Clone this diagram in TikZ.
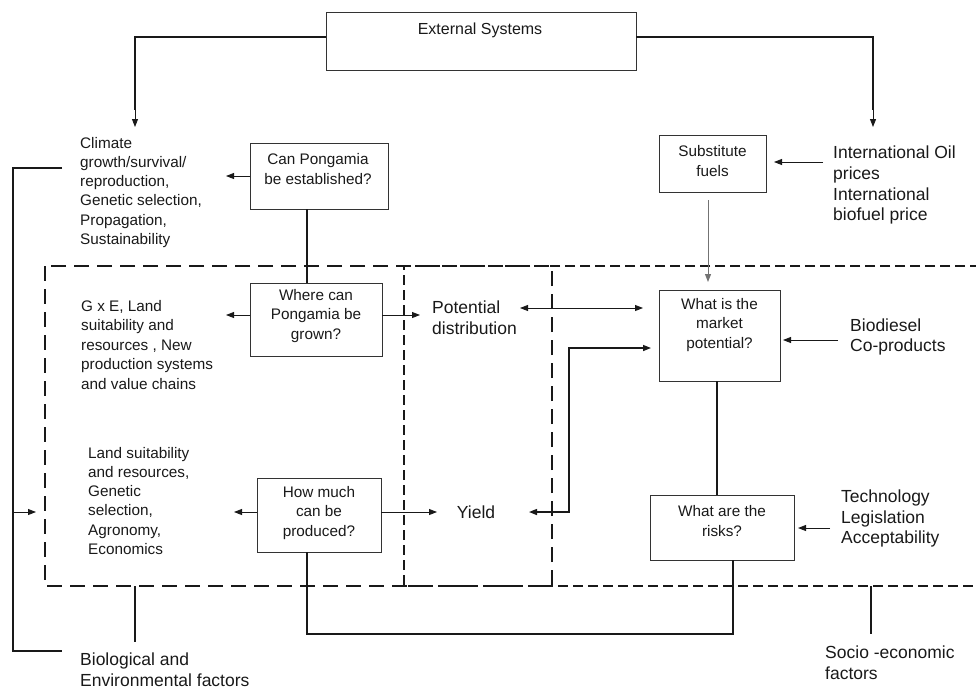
\documentclass[tikz,border=0pt]{standalone}
\usepackage{fontspec}
\setmainfont{Liberation Sans}
\usetikzlibrary{arrows.meta,calc}
\begin{document}
\begin{tikzpicture}[x=1pt,y=-1pt,
  box/.style={draw=black!80, line width=0.9pt, inner sep=0pt, outer sep=0pt},
  boxtxt/.style={font=\fontsize{15.3}{19.2}\selectfont, align=center, inner sep=0pt, text=black!90},
  lefttxt/.style={font=\fontsize{15.3}{19.2}\selectfont, align=left, anchor=north west, inner sep=0pt, text=black!90},
  bigtxt/.style={font=\fontsize{17.5}{20.7}\selectfont, align=left, anchor=north west, inner sep=0pt, text=black!90},
  tip/.tip={Triangle[length=8pt,width=6pt]},
  arr/.style={line width=0.9pt, draw=black!90, -tip},
  darr/.style={line width=0.9pt, draw=black!90, tip-tip},
  mid/.style={line width=1.7pt, draw=black!90},
  leftdash/.style={line width=2.8pt, draw=black!90, dash pattern=on 15pt off 8pt},
  rightdash/.style={line width=2.8pt, draw=black!90, dash pattern=on 10pt off 5pt},
]
\useasboundingbox (0,0) rectangle (976,689);

% dashed regions
\draw[leftdash] (45,266) rectangle (552,586);
\draw[rightdash] (995,266) -- (404,266) -- (404,586) -- (995,586);

% boxes
\node[box, minimum width=310pt, minimum height=58pt] (ext) at (481,41) {};
\node[boxtxt, font=\fontsize{16}{19}\selectfont] (exttxt) at (480,30) {External Systems};
\node[box, minimum width=138pt, minimum height=66pt] (can) at (319,176) {};
\node[boxtxt] (cantxt) at (318,169) {Can Pongamia\\be established?};
\node[box, minimum width=132pt, minimum height=73pt] (where) at (316,319.5) {};
\node[boxtxt] (wheretxt) at (316,316) {Where can\\Pongamia be\\grown?};
\node[box, minimum width=124pt, minimum height=74pt] (how) at (319,515) {};
\node[boxtxt] (howtxt) at (319,513) {How much\\can be\\produced?};
\node[box, minimum width=107pt, minimum height=57pt] (subst) at (712.5,163.5) {};
\node[boxtxt] (substtxt) at (712.5,161) {Substitute\\fuels};
\node[box, minimum width=121pt, minimum height=91pt] (market) at (719.5,335.5) {};
\node[boxtxt] (markettxt) at (719.5,325) {What is the\\market\\potential?};
\node[box, minimum width=144pt, minimum height=65pt] (risks) at (722,527.5) {};
\node[boxtxt] (riskstxt) at (722,521) {What are the\\risks?};

% free texts
\node[lefttxt] (clim) at (80,137) {Climate\\growth/survival/\\reproduction,\\Genetic selection,\\Propagation,\\Sustainability};
\node[lefttxt, font=\fontsize{15.3}{19.5}\selectfont] (gxe) at (81,300) {G x E, Land\\suitability and\\resources , New\\production systems\\and value chains};
\node[lefttxt] (land) at (88,447) {Land suitability\\and resources,\\Genetic\\selection,\\Agronomy,\\Economics};
\node[bigtxt, font=\fontsize{17.5}{21}\selectfont] (pot) at (432,301) {Potential\\distribution};
\node[boxtxt, font=\fontsize{17.5}{21}\selectfont] (yield) at (476,512) {Yield};
\node[bigtxt] (intl) at (833,146) {International Oil\\prices\\International\\biofuel price};
\node[bigtxt, font=\fontsize{17.5}{19.5}\selectfont] (bio) at (850,319) {Biodiesel\\Co-products};
\node[bigtxt, font=\fontsize{17.5}{20.5}\selectfont] (tech) at (841,490) {Technology\\Legislation\\Acceptability};
\node[bigtxt, font=\fontsize{17.5}{21}\selectfont] (biof) at (80,653) {Biological and\\Environmental factors};
\node[bigtxt, font=\fontsize{17.5}{20.5}\selectfont] (socio) at (825,646) {Socio -economic\\factors};

% coordinates for free ends
\coordinate (climtip) at (135,127);
\coordinate (inttip) at (873,127);
\coordinate (brtop) at (62,168);
\coordinate (brbot) at (62,651);
\coordinate (brarr) at (36,512);
\coordinate (pd) at (520,308);
\coordinate (yt) at (529,512);
\coordinate (io) at (823,162);
\coordinate (bd) at (838,340);
\coordinate (tc) at (830,528);

% external system links
\draw[mid] ($(ext.west)+(0,-4)$) -| (135,110);
\draw[arr] (135,105) -- (climtip);
\draw[mid] ($(ext.east)+(0,-4)$) -| (873,110);
\draw[arr] (873,105) -- (inttip);

% bracket on the left
\draw[mid] (brtop) -- (13,168) -- (13,651) -- (brbot);
\draw[arr] (13,512) -- (brarr);

% question box arrows
\draw[arr] (can.west) -- ++(-24,0);
\draw[arr] ($(where.west)+(0,-4.5)$) -- ++(-24,0);
\draw[arr] ($(where.east)+(0,-4.5)$) -- ++(38,0);
\draw[arr] ($(how.west)+(0,-3)$) -- ++(-23,0);
\draw[arr] ($(how.east)+(0,-3)$) -- ++(56,0);

% vertical links
\draw[mid] ($(can.south)+(-12,0)$) -- ($(where.north)+(-9,0)$);
\draw[mid] ($(market.south)+(-2.5,0)$) -- ($(risks.north)+(-5,0)$);
\draw[mid] ($(how.south)+(-12,0)$) -- ++(0,82) -| ($(risks.south)+(11,0)$);

% market links
\draw[darr] (pd) -- ($(market.west)+(-16,-27.5)$);
\draw[mid, line width=1.4pt, tip-tip] (yt) -- ++(40,0) |- ($(market.west)+(-8,12.5)$);
\draw[arr, draw=black!55, line width=1pt] ($(subst.south)+(-4.5,8)$) -- ($(market.north)+(-11.5,-8)$);
\draw[arr] (io) -- ($(subst.east |- io)+(8,0)$);
\draw[arr] (bd) -- ($(market.east |- bd)+(3,0)$);
\draw[arr] (tc) -- ($(risks.east |- tc)+(4,0)$);

% factor lines
\draw[mid] (135,586) -- (135,642);
\draw[mid] (871,586) -- (871,634);
\end{tikzpicture}
\end{document}
